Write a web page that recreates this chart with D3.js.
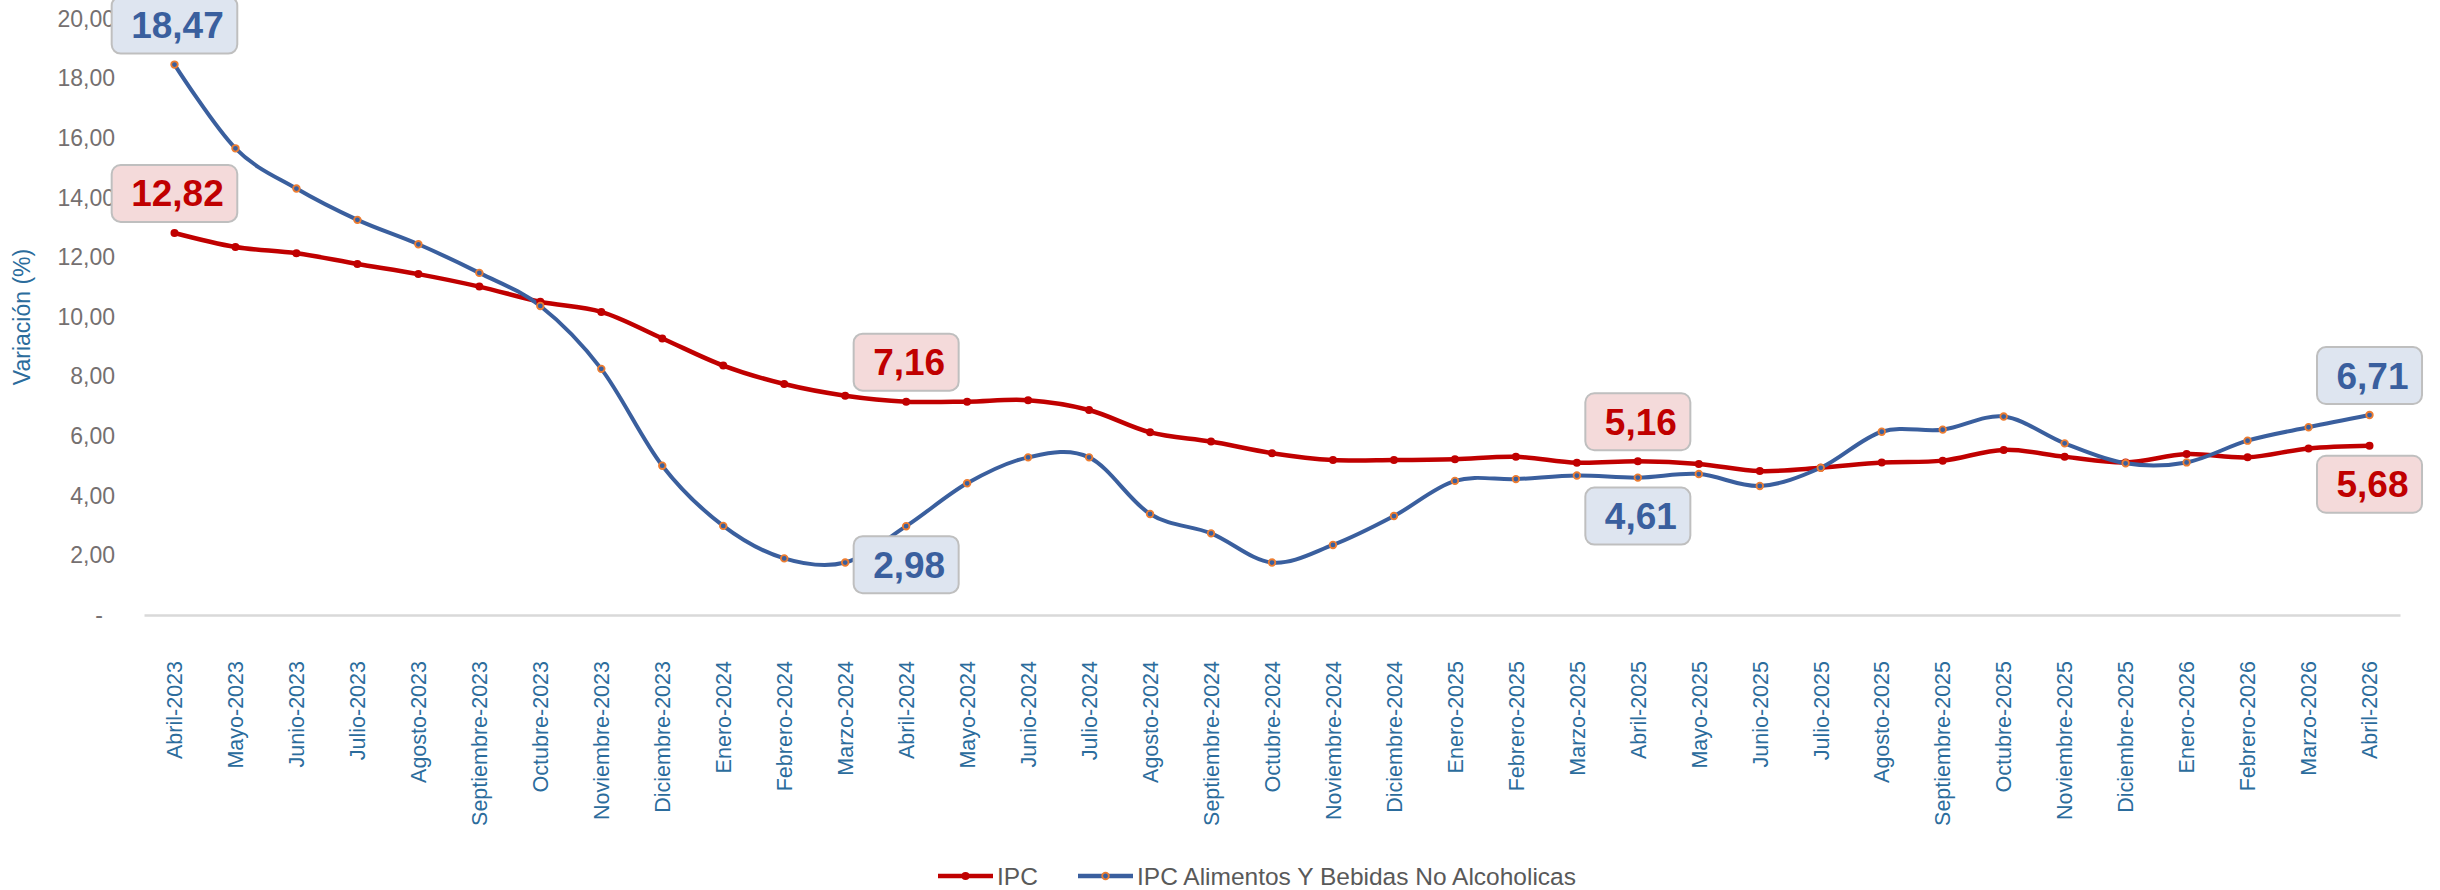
<html>
<head>
<meta charset="utf-8">
<script src="https://cdnjs.cloudflare.com/ajax/libs/d3/7.8.5/d3.min.js"></script>
<style>
  body { margin: 0; background: #fff; }
  svg text { font-family: "Liberation Sans", Arial, sans-serif; }
</style>
</head>
<body>
<svg id="chart" width="2440" height="890"></svg>

<script>

	// months on the x axis
	var months = ["Abril-2023","Mayo-2023","Junio-2023","Julio-2023","Agosto-2023","Septiembre-2023",
		"Octubre-2023","Noviembre-2023","Diciembre-2023","Enero-2024","Febrero-2024","Marzo-2024",
		"Abril-2024","Mayo-2024","Junio-2024","Julio-2024","Agosto-2024","Septiembre-2024",
		"Octubre-2024","Noviembre-2024","Diciembre-2024","Enero-2025","Febrero-2025","Marzo-2025",
		"Abril-2025","Mayo-2025","Junio-2025","Julio-2025","Agosto-2025","Septiembre-2025",
		"Octubre-2025","Noviembre-2025","Diciembre-2025","Enero-2026","Febrero-2026","Marzo-2026","Abril-2026"]

	var ipc = [12.82, 12.35, 12.14, 11.78, 11.44, 11.02, 10.51, 10.17, 9.28, 8.37, 7.75, 7.36,
		7.16, 7.16, 7.21, 6.88, 6.13, 5.82, 5.43, 5.20, 5.20, 5.23, 5.31, 5.11,
		5.16, 5.07, 4.83, 4.94, 5.12, 5.18, 5.54, 5.31, 5.12, 5.40, 5.29, 5.59, 5.68]

	var alimentos = [18.47, 15.66, 14.31, 13.26, 12.44, 11.48, 10.37, 8.26, 5.01, 2.99, 1.90, 1.76,
		2.98, 4.42, 5.29, 5.29, 3.39, 2.74, 1.76, 2.35, 3.32, 4.50, 4.56, 4.68,
		4.61, 4.73, 4.33, 4.94, 6.15, 6.22, 6.66, 5.76, 5.09, 5.12, 5.85, 6.30, 6.71]

	var yTicks = [0, 2, 4, 6, 8, 10, 12, 14, 16, 18, 20]

	// which points get a callout, and on which side
	var labelIdx = [0, 12, 24, 36]
	var ipcLabelSide = ["up", "up", "up", "down"]
	var alimLabelSide = ["up", "down", "down", "up"]

	var seriesNames = ["IPC", "IPC Alimentos Y Bebidas No Alcoholicas"]

	var RED = "#C00000"
	var BLUE = "#3A5F9E"
	var ORANGE = "#ED7D31"

	var svg = d3.select("#chart")

	var x = d3.scaleBand().domain(months).range([144, 2400])
	var y = d3.scaleLinear().domain([0, 20]).range([615, 19])
	var cx = (d, i) => x(months[i]) + x.bandwidth() / 2

	var fmt = v => v === 0 ? "-" : d3.format(".2f")(v).replace(".", ",")

	// y axis (no line, no ticks)
	var yAxis = svg.append("g")
		.attr("transform", "translate(124,0)")
		.call(d3.axisLeft(y).tickValues(yTicks).tickSize(0).tickPadding(9).tickFormat(fmt))
	yAxis.select(".domain").remove()
	yAxis.selectAll("text")
		.attr("fill", "#757070")
		.style("font-size", "23px")
		.filter(d => d === 0).attr("x", -21)

	// x axis baseline
	var xAxis = svg.append("g")
		.attr("transform", "translate(0,615)")
		.call(d3.axisBottom(x).tickSize(0).tickPadding(0))
	xAxis.select(".domain").attr("stroke", "#D9D9D9").attr("stroke-width", 2.5)
	xAxis.selectAll("text")
		.attr("fill", "#2B6C9C")
		.style("font-size", "21.5px")
		.attr("text-anchor", "end")
		.attr("transform", "translate(0,46) rotate(-90)")
		.attr("x", 0).attr("y", 0).attr("dy", "0.36em")

	// y axis title
	svg.append("text")
		.attr("transform", "translate(22,317) rotate(-90)")
		.attr("text-anchor", "middle")
		.attr("dy", "0.36em")
		.attr("fill", "#2B6C9C")
		.style("font-size", "23px")
		.text("Variación (%)")

	var line = d3.line()
		.x(cx)
		.y(d => y(d))
		.curve(d3.curveCardinal.tension(0))

	svg.append("path")
		.datum(ipc)
		.attr("d", line)
		.attr("fill", "none")
		.attr("stroke", RED)
		.attr("stroke-width", 4.5)

	svg.append("path")
		.datum(alimentos)
		.attr("d", line)
		.attr("fill", "none")
		.attr("stroke", BLUE)
		.attr("stroke-width", 4)

	svg.append("g").selectAll("circle")
		.data(ipc).enter().append("circle")
		.attr("cx", cx)
		.attr("cy", d => y(d))
		.attr("r", 4)
		.attr("fill", RED)

	svg.append("g").selectAll("circle")
		.data(alimentos).enter().append("circle")
		.attr("cx", cx)
		.attr("cy", d => y(d))
		.attr("r", 3.3)
		.attr("fill", BLUE)
		.attr("stroke", ORANGE)
		.attr("stroke-width", 1.8)

	// callout boxes
	function callouts(values, sides, textColor, boxColor) {
		labelIdx.forEach(function(i, k) {
			var v = values[i]
			var px = cx(v, i)
			var py = y(v)
			var g = svg.append("g")
			var t = g.append("text")
				.attr("text-anchor", "middle")
				.attr("fill", textColor)
				.style("font-size", "37px")
				.style("font-weight", "bold")
				.text(fmt(v))
			var w = t.node().getComputedTextLength() + 33
			var h = 57
			var top = sides[k] == "up" ? py - 11 - h : py + 10
			g.insert("rect", "text")
				.attr("x", px - w / 2)
				.attr("y", top)
				.attr("width", w)
				.attr("height", h)
				.attr("rx", 9)
				.attr("fill", boxColor)
				.attr("stroke", "#BFBFBF")
				.attr("stroke-width", 2)
			t.attr("x", px + 3).attr("y", top + h / 2 + 13)
		})
	}
	callouts(ipc, ipcLabelSide, RED, "#F4DADA")
	callouts(alimentos, alimLabelSide, BLUE, "#DEE5F0")

	// legend
	var legend = svg.append("g").attr("transform", "translate(0,876)")
	var legendItems = [
		{ name: seriesNames[0], x: 938, color: RED },
		{ name: seriesNames[1], x: 1078, color: BLUE }
	]
	legendItems.forEach(function(it, i) {
		legend.append("line")
			.attr("x1", it.x).attr("x2", it.x + 55)
			.attr("stroke", it.color).attr("stroke-width", 4.5)
		if (i == 0) {
			legend.append("circle").attr("cx", it.x + 27.5).attr("r", 4).attr("fill", RED)
		} else {
			legend.append("circle").attr("cx", it.x + 27.5).attr("r", 3.3)
				.attr("fill", BLUE).attr("stroke", ORANGE).attr("stroke-width", 1.8)
		}
		legend.append("text")
			.attr("x", it.x + 59)
			.attr("dy", "0.36em")
			.attr("fill", "#595959")
			.style("font-size", "24.5px")
			.text(it.name)
	})

</script>
</body>
</html>
